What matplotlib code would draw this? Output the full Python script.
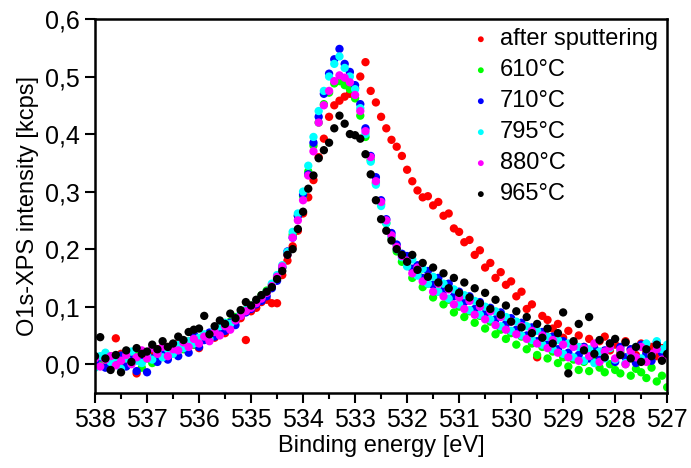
import numpy as np
import matplotlib.pyplot as plt
from matplotlib.ticker import MultipleLocator, FuncFormatter

# binding energy grid, 538.0 -> 527.0 eV in 0.1 eV steps
energy = np.linspace(538.0, 527.0, 111)

after_sputtering = [
    0.006, 0.010, -0.002, 0.014, 0.045, 0.018, 0.004, 0.010, -0.016, 0.012,
    0.020, 0.014, 0.026, 0.018, 0.030, 0.024, 0.036, 0.030, 0.040, 0.034,
    0.028, 0.044, 0.050, 0.046, 0.060, 0.054, 0.068, 0.074, 0.080, 0.042,
    0.092, 0.098, 0.108, 0.112, 0.106, 0.106, 0.155, 0.180, 0.205, 0.232,
    0.262, 0.290, 0.320, 0.360, 0.392, 0.430, 0.450, 0.458, 0.465, 0.470,
    0.480, 0.500, 0.525, 0.475, 0.455, 0.430, 0.410, 0.390, 0.378, 0.362,
    0.338, 0.318, 0.302, 0.290, 0.292, 0.276, 0.282, 0.258, 0.262, 0.236,
    0.230, 0.212, 0.216, 0.190, 0.198, 0.168, 0.176, 0.150, 0.160, 0.138,
    0.144, 0.118, 0.126, 0.096, 0.104, 0.012, 0.084, 0.077, 0.062, 0.070,
    0.046, 0.058, 0.036, 0.050, 0.030, 0.044, 0.026, 0.040, 0.048, 0.024,
    0.034, 0.020, 0.040, 0.026, 0.016, 0.036, 0.022, 0.030, 0.014, 0.028,
    0.018]

t610 = [
    0.008, 0.002, 0.012, -0.002, 0.010, 0.004, 0.014, 0.006, 0.016, -0.006,
    0.010, 0.002, 0.016, 0.020, 0.012, 0.024, 0.032, 0.026, 0.038, 0.034,
    0.042, 0.050, 0.046, 0.058, 0.064, 0.060, 0.074, 0.082, 0.086, 0.094,
    0.102, 0.110, 0.120, 0.128, 0.138, 0.150, 0.168, 0.192, 0.225, 0.258,
    0.292, 0.335, 0.380, 0.420, 0.452, 0.472, 0.488, 0.492, 0.485, 0.478,
    0.462, 0.432, 0.395, 0.355, 0.315, 0.278, 0.245, 0.218, 0.196, 0.178,
    0.172, 0.150, 0.158, 0.134, 0.140, 0.116, 0.126, 0.104, 0.112, 0.090,
    0.100, 0.082, 0.092, 0.072, 0.084, 0.062, 0.074, 0.052, 0.060, 0.044,
    0.054, 0.034, 0.048, 0.026, 0.036, 0.016, 0.030, 0.010, 0.022, 0.002,
    0.012, -0.004, 0.008, -0.010, 0.004, -0.012, 0.006, -0.006, -0.014, 0.000,
    -0.010, -0.016, 0.000, -0.020, -0.008, -0.014, -0.024, -0.006, -0.030, -0.020,
    -0.040]

t710 = [
    0.004, 0.012, -0.006, 0.010, 0.002, 0.015, -0.004, 0.008, -0.012, 0.006,
    -0.014, 0.010, 0.004, 0.018, 0.008, 0.022, 0.014, 0.030, 0.020, 0.052,
    0.030, 0.042, 0.055, 0.048, 0.062, 0.058, 0.072, 0.068, 0.084, 0.090,
    0.096, 0.104, 0.110, 0.118, 0.132, 0.145, 0.168, 0.196, 0.220, 0.258,
    0.295, 0.330, 0.385, 0.430, 0.470, 0.505, 0.530, 0.548, 0.522, 0.508,
    0.485, 0.452, 0.410, 0.362, 0.325, 0.285, 0.252, 0.228, 0.208, 0.192,
    0.188, 0.166, 0.172, 0.150, 0.162, 0.138, 0.150, 0.128, 0.140, 0.118,
    0.126, 0.108, 0.118, 0.096, 0.108, 0.088, 0.098, 0.078, 0.090, 0.070,
    0.080, 0.060, 0.072, 0.050, 0.064, 0.040, 0.056, 0.034, 0.048, 0.026,
    0.040, 0.020, 0.034, 0.016, 0.030, 0.010, 0.028, 0.008, 0.024, 0.036,
    0.004, 0.030, 0.012, 0.026, 0.002, 0.034, 0.018, 0.006, 0.038, 0.020,
    0.030]

t795 = [
    -0.006, 0.014, 0.020, 0.004, 0.012, -0.008, 0.010, 0.022, 0.006, 0.002,
    0.016, 0.008, 0.020, 0.012, 0.026, 0.018, 0.034, 0.028, 0.040, 0.036,
    0.046, 0.052, 0.044, 0.060, 0.066, 0.072, 0.070, 0.080, 0.088, 0.094,
    0.100, 0.108, 0.116, 0.126, 0.140, 0.155, 0.172, 0.195, 0.230, 0.262,
    0.300, 0.345, 0.395, 0.440, 0.475, 0.500, 0.522, 0.535, 0.515, 0.500,
    0.478, 0.445, 0.400, 0.352, 0.312, 0.275, 0.245, 0.222, 0.200, 0.186,
    0.170, 0.182, 0.154, 0.166, 0.140, 0.152, 0.126, 0.140, 0.114, 0.130,
    0.104, 0.120, 0.094, 0.110, 0.086, 0.100, 0.078, 0.092, 0.066, 0.082,
    0.058, 0.074, 0.050, 0.066, 0.042, 0.058, 0.034, 0.048, 0.026, 0.042,
    0.018, 0.036, 0.012, 0.030, 0.006, 0.026, 0.002, 0.022, 0.010, 0.028,
    0.008, 0.024, 0.002, 0.018, 0.030, 0.010, 0.036, 0.016, 0.040, 0.026,
    0.034]

t880 = [
    0.010, -0.004, 0.008, 0.014, -0.002, 0.006, 0.016, 0.000, 0.012, 0.024,
    0.010, 0.028, 0.018, 0.030, 0.014, 0.026, 0.024, 0.038, 0.030, 0.044,
    0.036, 0.048, 0.040, 0.056, 0.050, 0.066, 0.060, 0.076, 0.084, 0.092,
    0.098, 0.106, 0.114, 0.124, 0.136, 0.152, 0.170, 0.190, 0.220, 0.250,
    0.285, 0.328, 0.370, 0.420, 0.450, 0.475, 0.492, 0.502, 0.498, 0.490,
    0.468, 0.440, 0.405, 0.360, 0.318, 0.282, 0.250, 0.224, 0.204, 0.188,
    0.180, 0.158, 0.168, 0.144, 0.152, 0.126, 0.140, 0.118, 0.130, 0.104,
    0.116, 0.096, 0.110, 0.086, 0.100, 0.078, 0.092, 0.068, 0.082, 0.060,
    0.074, 0.052, 0.066, 0.044, 0.058, 0.036, 0.050, 0.028, 0.042, 0.020,
    0.034, 0.012, 0.030, 0.006, 0.028, 0.014, 0.036, 0.004, 0.022, 0.030,
    0.010, 0.026, 0.000, 0.022, 0.012, 0.030, 0.004, 0.018, 0.026, 0.008,
    0.016]

t965 = [
    0.014, 0.047, 0.010, -0.010, 0.016, -0.014, 0.024, 0.004, 0.028, 0.018,
    0.022, 0.034, 0.026, 0.040, 0.030, 0.036, 0.048, 0.042, 0.056, 0.060,
    0.062, 0.084, 0.052, 0.066, 0.076, 0.070, 0.088, 0.080, 0.094, 0.108,
    0.102, 0.112, 0.120, 0.126, 0.134, 0.148, 0.162, 0.190, 0.200, 0.235,
    0.265, 0.305, 0.328, 0.358, 0.372, 0.385, 0.410, 0.432, 0.418, 0.400,
    0.398, 0.392, 0.365, 0.330, 0.285, 0.252, 0.232, 0.215, 0.200, 0.190,
    0.178, 0.190, 0.164, 0.176, 0.152, 0.168, 0.142, 0.158, 0.132, 0.150,
    0.124, 0.142, 0.116, 0.132, 0.106, 0.124, 0.096, 0.112, 0.086, 0.102,
    0.074, 0.092, 0.064, 0.082, 0.054, 0.070, 0.046, 0.062, 0.036, 0.054,
    0.090, -0.016, 0.040, 0.070, 0.024, 0.082, 0.018, 0.042, 0.012, 0.036,
    0.044, 0.016, 0.038, 0.010, 0.030, 0.004, 0.026, 0.014, 0.034, 0.006,
    0.018]

labels = ["after sputtering", "610°C", "710°C", "795°C", "880°C", "965°C"]
colors = ["#ff0000", "#00ff00", "#0000ff", "#00ffff", "#ff00ff", "#000000"]
series = [after_sputtering, t610, t710, t795, t880, t965]

plt.rcParams['font.family'] = ['Liberation Sans', 'DejaVu Sans']

fig = plt.figure(figsize=(6.91, 4.68), dpi=100)
ax = fig.add_axes([0.1375, 0.1603, 0.828, 0.7991])

for y, c, lbl in zip(series, colors, labels):
    ax.scatter(energy, y, s=36, color=c, edgecolors='none', label=lbl)

ax.set_xlim(538, 527)
ax.set_ylim(-0.05, 0.6)
ax.xaxis.set_major_locator(MultipleLocator(1))
ax.xaxis.set_minor_locator(MultipleLocator(0.5))
ax.yaxis.set_major_locator(MultipleLocator(0.1))
ax.yaxis.set_major_formatter(FuncFormatter(lambda v, p: f"{v:.1f}".replace('.', ',')))
ax.xaxis.set_major_formatter(FuncFormatter(lambda v, p: f"{v:.0f}"))

ax.tick_params(which='major', direction='out', length=7, width=1.5, labelsize=18, pad=4)
ax.tick_params(which='minor', direction='out', length=4, width=1.5)
for s in ax.spines.values():
    s.set_linewidth(1.8)

ax.set_xlabel("Binding energy [eV]", fontsize=17, labelpad=2)
ax.set_ylabel("O1s-XPS intensity [kcps]", fontsize=17, labelpad=4)

ax.legend(loc='upper right', frameon=False, fontsize=17, markerscale=0.7,
          handletextpad=0.3, labelspacing=0.38, borderaxespad=0.2,
          handlelength=1.0, borderpad=0.2)

fig.savefig('out.png', dpi=100)
